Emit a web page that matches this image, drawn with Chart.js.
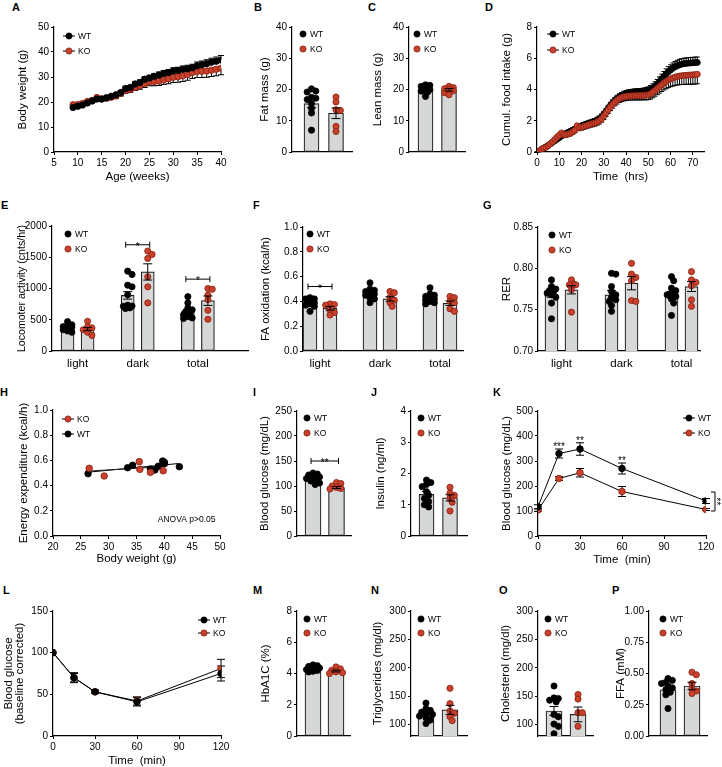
<!DOCTYPE html>
<html>
<head>
<meta charset="utf-8">
<title>Metabolic phenotype WT vs KO</title>
<script src="https://cdn.jsdelivr.net/npm/chart.js@4.4.1/dist/chart.umd.min.js"></script>
<style>
  html, body { margin: 0; padding: 0; background: #fff; }
  body { position: relative; width: 722px; height: 767px; overflow: hidden; }
  canvas { position: absolute; }
  .tag { position: absolute; font: bold 11px "Liberation Sans", Arial, sans-serif; line-height: 11px; color: #000; }
</style>
</head>
<body>
<script>
// ---------------- data ----------------
// A  body weight (g) by age (weeks), mean and SEM
const ageWeeks = [9,10,11,12,13,14,15,16,17,18,19,20,21,22,23,24,25,26,27,28,29,30,31,32,33,34,35,36,37,38,39,40];
const bwWT = [17.8,18.3,18.8,19.6,20.4,21.2,21.2,21.7,22.3,22.9,23.8,25.4,25.8,27.2,27.8,29.1,29.6,30.3,30.8,31.4,31.8,32.4,32.6,33.1,33.3,33.7,34.5,34.9,35.3,35.9,36.3,36.8];
const bwWTsem = [0.5,0.5,0.5,0.5,0.5,0.6,0.6,0.6,0.6,0.7,0.7,0.8,0.8,0.9,1.0,1.0,1.1,1.1,1.2,1.2,1.2,1.3,1.3,1.3,1.4,1.4,1.5,1.5,1.6,1.6,1.7,1.8];
const bwKO = [18.9,19.0,19.4,20.2,20.6,21.8,21.2,21.5,21.9,22.4,23.4,24.6,25.0,25.9,26.5,27.3,28.1,28.2,28.4,28.9,29.3,29.9,30.1,30.5,31.0,31.8,32.2,32.3,32.4,32.7,33.1,33.5];
const bwKOsem = [0.6,0.6,0.6,0.6,0.7,0.7,0.7,0.8,0.8,0.9,1.0,1.1,1.2,1.3,1.4,1.5,1.6,1.7,1.8,1.9,2.0,2.1,2.2,2.3,2.3,2.4,2.4,2.5,2.5,2.5,2.6,2.6];

// B  fat mass (g)
const fatMean = [15.5, 12.4];
const fatSem = [1.3, 1.7];
const fatWT = [20.2, 19.2, 19.5, 17.5, 16.8, 17.2, 15.5, 14.0, 12.5, 7.0];
const fatKO = [17.6, 16.0, 13.3, 13.5, 8.2, 6.6];

// C  lean mass (g)
const leanMean = [20.1, 19.9];
const leanSem = [0.4, 0.4];
const leanWT = [21.5, 21.3, 21.0, 20.5, 20.3, 20.0, 19.8, 19.5, 19.2, 17.8];
const leanKO = [21.0, 20.6, 20.3, 20.0, 19.6, 19.0, 18.3];

// D  cumulative food intake (g) by time (hrs)
const hours = [0,1,2,3,4,5,6,7,8,9,10,11,12,13,14,15,16,17,18,19,20,21,22,23,24,25,26,27,28,29,30,31,32,33,34,35,36,37,38,39,40,41,42,43,44,45,46,47,48,49,50,51,52,53,54,55,56,57,58,59,60,61,62,63,64,65,66,67,68,69,70,71,72];
const foodWT = [0.00,0.05,0.15,0.25,0.33,0.42,0.52,0.62,0.72,0.82,
  0.92,1.02,1.10,1.18,1.26,1.33,1.40,1.47,1.55,1.62,
  1.68,1.73,1.78,1.83,1.88,1.93,1.98,2.05,2.13,2.25,
  2.42,2.60,2.80,2.98,3.15,3.30,3.42,3.52,3.60,3.67,
  3.72,3.76,3.78,3.80,3.81,3.82,3.83,3.84,3.86,3.89,
  3.93,4.00,4.10,4.22,4.36,4.52,4.68,4.84,5.00,5.13,
  5.25,5.36,5.45,5.52,5.58,5.62,5.65,5.67,5.69,5.70,
  5.71,5.72,5.73];
const foodWTsem = [0.02,0.03,0.05,0.06,0.07,0.08,0.08,0.09,0.09,0.10,
  0.10,0.11,0.11,0.12,0.12,0.12,0.13,0.13,0.14,0.14,
  0.14,0.15,0.15,0.15,0.16,0.16,0.16,0.17,0.17,0.18,
  0.18,0.19,0.19,0.20,0.20,0.20,0.21,0.21,0.21,0.22,
  0.22,0.22,0.22,0.22,0.23,0.23,0.23,0.23,0.23,0.24,
  0.24,0.25,0.26,0.27,0.28,0.29,0.30,0.31,0.32,0.33,
  0.33,0.34,0.34,0.35,0.35,0.35,0.35,0.35,0.35,0.35,
  0.35,0.35,0.35];
const foodKO = [0.00,0.05,0.18,0.25,0.30,0.40,0.52,0.65,0.80,0.95,
  1.08,1.22,1.12,1.10,1.15,1.20,1.28,1.40,1.68,1.55,
  1.58,1.63,1.68,1.73,1.78,1.82,1.86,1.92,2.00,2.12,
  2.30,2.50,2.70,2.88,3.05,3.20,3.32,3.42,3.48,3.53,
  3.56,3.58,3.59,3.60,3.60,3.61,3.61,3.62,3.63,3.64,
  3.66,3.72,3.82,3.94,4.06,4.18,4.30,4.42,4.52,4.61,
  4.68,4.74,4.79,4.83,4.86,4.88,4.90,4.91,4.92,4.93,
  4.94,4.95,4.97];
const foodKOsem = [0.02,0.04,0.06,0.07,0.08,0.09,0.10,0.11,0.12,0.13,
  0.14,0.15,0.15,0.15,0.15,0.16,0.16,0.17,0.18,0.18,
  0.18,0.18,0.19,0.19,0.19,0.20,0.20,0.20,0.21,0.21,
  0.22,0.22,0.23,0.23,0.24,0.24,0.25,0.25,0.25,0.26,
  0.26,0.26,0.26,0.27,0.27,0.27,0.28,0.28,0.29,0.30,
  0.31,0.33,0.35,0.37,0.39,0.41,0.43,0.45,0.47,0.49,
  0.50,0.52,0.53,0.54,0.55,0.56,0.57,0.58,0.58,0.59,
  0.60,0.60,0.60];

// E, F, G  light / dark / total phase
const phases = ['light', 'dark', 'total'];
const locoMeanWT = [360, 890, 630];
const locoSemWT = [15, 60, 35];
const locoMeanKO = [350, 1265, 805];
const locoSemKO = [25, 130, 75];
const locoWT = [[470, 420, 400, 390, 375, 365, 355, 340, 320, 300],
                [1278, 1225, 1053, 1027, 900, 720, 733, 716, 690, 679],
                [870, 770, 690, 660, 630, 600, 580, 550, 530, 520]];
const locoKO = [[475, 385, 370, 340, 300, 250],
                [1599, 1545, 1481, 1187, 1027, 770],
                [1000, 989, 893, 823, 652, 508]];
const locoSig = [[1, 1700, '*'], [2, 1150, '*']];   // [phase index, bracket height, label]

const faoMeanWT = [0.39, 0.46, 0.425];
const faoSemWT = [0.010, 0.015, 0.012];
const faoMeanKO = [0.345, 0.42, 0.385];
const faoSemKO = [0.015, 0.018, 0.018];
const faoWT = [[0.43, 0.42, 0.42, 0.41, 0.40, 0.39, 0.38, 0.37, 0.36, 0.32],
               [0.55, 0.50, 0.49, 0.48, 0.47, 0.46, 0.45, 0.43, 0.42, 0.39],
               [0.51, 0.46, 0.45, 0.44, 0.43, 0.42, 0.41, 0.40, 0.39, 0.38]];
const faoKO = [[0.38, 0.375, 0.37, 0.33, 0.31, 0.29],
               [0.48, 0.47, 0.43, 0.41, 0.39, 0.36],
               [0.44, 0.43, 0.40, 0.39, 0.34, 0.32]];
const faoSig = [[0, 0.52, '*']];

const rerMeanWT = [0.769, 0.768, 0.768];
const rerSemWT = [0.004, 0.005, 0.004];
const rerMeanKO = [0.774, 0.782, 0.778];
const rerSemKO = [0.005, 0.008, 0.006];
const rerWT = [[0.786, 0.778, 0.775, 0.773, 0.772, 0.770, 0.768, 0.765, 0.758, 0.739],
               [0.794, 0.793, 0.778, 0.772, 0.768, 0.765, 0.762, 0.760, 0.755, 0.748],
               [0.790, 0.785, 0.776, 0.773, 0.770, 0.768, 0.766, 0.763, 0.758, 0.743]];
const rerKO = [[0.786, 0.781, 0.780, 0.780, 0.774, 0.747],
               [0.806, 0.793, 0.789, 0.785, 0.761, 0.760],
               [0.796, 0.786, 0.783, 0.779, 0.762, 0.754]];

// H  energy expenditure (kcal/h) vs body weight (g)
const eeKOx = [26.5, 29.2, 35.5, 35.6, 37.5, 39.8];
const eeKOy = [0.537, 0.476, 0.590, 0.529, 0.505, 0.518];
const eeWTx = [26.3, 33.4, 34.3, 37.5, 38.3, 38.9, 39.7, 40.0, 40.0, 42.7];
const eeWTy = [0.495, 0.542, 0.561, 0.532, 0.524, 0.553, 0.595, 0.585, 0.574, 0.550];
const eeFitKOx = [26.3, 39.6], eeFitKOy = [0.515, 0.550];
const eeFitWTx = [26.0, 42.5], eeFitWTy = [0.505, 0.575];

// I  blood glucose (mg/dL), J  insulin (ng/ml)
const gluMean = [113, 97];
const gluSem = [2.5, 2.0];
const gluWT = [126, 124, 122, 120, 118, 115, 112, 110, 106, 103];
const gluKO = [107, 105, 100, 97, 95, 94];
const gluSig = [[150, '**']];
const insMean = [1.33, 1.22];
const insSem = [0.09, 0.10];
const insWT = [1.79, 1.71, 1.65, 1.58, 1.42, 1.30, 1.20, 1.10, 1.00, 0.93];
const insKO = [1.56, 1.37, 1.30, 1.21, 1.08, 0.80];

// K  glucose tolerance, L  insulin tolerance
const tolMin = [0, 15, 30, 60, 120];
const gttWT = [117, 330, 348, 270, 140];
const gttWTsem = [8, 18, 25, 22, 10];
const gttKO = [104, 230, 253, 178, 106];
const gttKOsem = [5, 8, 17, 20, 4];
const gttStars = [[15, '***'], [30, '**'], [60, '**']];
const itWT = [100, 70, 53, 41, 75];
const itWTsem = [0, 5, 2, 5, 9];
const itKO = [100, 70, 53, 42, 81];
const itKOsem = [0, 6, 2, 5, 11];

// M - P
const hbaMean = [4.32, 4.16];
const hbaSem = [0.05, 0.06];
const hbaWT = [4.55, 4.50, 4.45, 4.40, 4.35, 4.30, 4.25, 4.20, 4.15, 4.10];
const hbaKO = [4.42, 4.30, 4.20, 4.10, 4.05, 4.00];
const tgMean = [119, 126];
const tgSem = [3.5, 8];
const tgWT = [138, 128, 125, 122, 120, 118, 115, 112, 108, 102];
const tgKO = [164, 137, 124, 120, 114, 107];
const cholMean = [124, 118];
const cholSem = [8, 13];
const cholWT = [168, 147, 146, 143, 140, 118, 114, 101, 97, 84];
const cholKO = [153, 145, 121, 121, 97];
const ffaMean = [0.37, 0.40];
const ffaSem = [0.02, 0.03];
const ffaWT = [0.46, 0.445, 0.43, 0.42, 0.40, 0.385, 0.37, 0.35, 0.33, 0.22];
const ffaKO = [0.51, 0.49, 0.42, 0.38, 0.36, 0.34];

// ---------------- style ----------------
const FONT = '"Liberation Sans", Arial, sans-serif';
const WT = { fill: '#000000', edge: '#000000' };
const KO = { fill: '#c8412d', edge: '#86200f' };
const BAR_FILL = '#d6d8d8';
const DOT_R = 3.1;

function drawErrs(chart, list) {
  if (!list) return;
  const { ctx, scales: { x, y } } = chart;
  ctx.save();
  ctx.strokeStyle = '#000';
  ctx.lineWidth = 1;
  list.forEach(e => {
    const px = x.getPixelForValue(e.x);
    const y0 = y.getPixelForValue(e.y - e.down), y1 = y.getPixelForValue(e.y + e.up);
    ctx.beginPath();
    ctx.moveTo(px, y0); ctx.lineTo(px, y1);
    if (e.up) { ctx.moveTo(px - e.cap, y1); ctx.lineTo(px + e.cap, y1); }
    if (e.down) { ctx.moveTo(px - e.cap, y0); ctx.lineTo(px + e.cap, y0); }
    ctx.stroke();
  });
  ctx.restore();
}

// error bars, brackets, inset legends, notes
Chart.register({
  id: 'extras',
  beforeDatasetsDraw(chart) {
    const e = chart.canvas._extras;
    if (e) drawErrs(chart, e.errsBelow);
  },
  afterDatasetsDraw(chart) {
    const e = chart.canvas._extras;
    if (!e) return;
    drawErrs(chart, e.errs);
    const { ctx, chartArea: a, scales: { x, y } } = chart;
    ctx.save();
    ctx.strokeStyle = '#000';
    ctx.fillStyle = '#000';
    ctx.lineWidth = 1;
    (e.brackets || []).forEach(b => {
      const x1 = x.getPixelForValue(b.x1) - 2, x2 = x.getPixelForValue(b.x2) + 2, py = y.getPixelForValue(b.y);
      ctx.beginPath();
      ctx.moveTo(x1, py - 3); ctx.lineTo(x1, py + 3);
      ctx.moveTo(x2, py - 3); ctx.lineTo(x2, py + 3);
      ctx.moveTo(x1, py); ctx.lineTo(x2, py);
      ctx.stroke();
      ctx.font = `10px ${FONT}`;
      ctx.textAlign = 'center';
      ctx.textBaseline = 'alphabetic';
      ctx.fillText(b.text, (x1 + x2) / 2, py + 5);
    });
    (e.texts || []).forEach(t => {
      ctx.font = `${t.size || 10}px ${FONT}`;
      ctx.textAlign = 'center';
      ctx.textBaseline = 'middle';
      ctx.fillText(t.text, x.getPixelForValue(t.x), y.getPixelForValue(t.y));
    });
    if (e.vb) {
      const v = e.vb;
      const px = x.getPixelForValue(v.x) + v.dx;
      const y1 = y.getPixelForValue(v.y1), y2 = y.getPixelForValue(v.y2);
      ctx.beginPath();
      ctx.moveTo(px - 4, y1); ctx.lineTo(px, y1); ctx.lineTo(px, y2); ctx.lineTo(px - 4, y2);
      ctx.stroke();
      ctx.save();
      ctx.translate(px - 2, (y1 + y2) / 2);
      ctx.rotate(Math.PI / 2);
      ctx.font = `10px ${FONT}`;
      ctx.textAlign = 'center';
      ctx.textBaseline = 'alphabetic';
      ctx.fillText(v.text, 0, 0);
      ctx.restore();
    }
    if (e.legend) {
      const L = e.legend;
      L.items.forEach((it, i) => {
        const cx = a.left + L.dx, cy = a.top + L.dy + i * L.gap;
        if (L.line) {
          ctx.beginPath();
          ctx.moveTo(cx - 6, cy); ctx.lineTo(cx + 6, cy);
          ctx.strokeStyle = '#000'; ctx.lineWidth = 1;
          ctx.stroke();
        }
        ctx.beginPath();
        ctx.arc(cx, cy, DOT_R, 0, Math.PI * 2);
        ctx.fillStyle = it.who.fill; ctx.fill();
        ctx.lineWidth = 0.8; ctx.strokeStyle = it.who.edge; ctx.stroke();
        ctx.fillStyle = '#000';
        ctx.font = `8.5px ${FONT}`;
        ctx.textAlign = 'left';
        ctx.textBaseline = 'middle';
        ctx.fillText(it.label, cx + (L.line ? 9 : 7), cy + 0.5);
      });
    }
    ctx.restore();
  }
});

function tag(letter, left, top) {
  const d = document.createElement('div');
  d.className = 'tag';
  d.textContent = letter;
  d.style.left = left + 'px';
  d.style.top = top + 'px';
  document.body.appendChild(d);
}

function axisY(p) {
  return {
    type: 'linear', position: 'left', min: p.y[0], max: p.y[1],
    afterBuildTicks: s => { s.ticks = p.yTicks.map(v => ({ value: v })); },
    afterFit: s => { s.width = p.yW; },
    ticks: { color: '#000', font: { family: FONT, size: 10 }, padding: 2, autoSkip: false,
             callback: v => Number(v).toFixed(p.yDec || 0) },
    grid: { drawOnChartArea: false, drawTicks: true, tickLength: 3, color: '#000', lineWidth: 1 },
    border: { display: true, color: '#000', width: 1.2 },
    title: { display: true, text: p.yTitle, color: '#000', padding: 0,
             font: { family: FONT, size: p.yTitleSize || 11.5, lineHeight: p.yTitleLH || 1.2 } }
  };
}

function axisX(p) {
  const cats = p.xCats;
  const tickVals = cats ? cats.at : (p.xTicks || [p.x[0]]);
  return {
    type: 'linear', position: 'bottom', min: p.x[0], max: p.x[1], offset: false,
    afterBuildTicks: s => { s.ticks = tickVals.map(v => ({ value: v })); },
    afterFit: s => { s.height = p.xH; },
    ticks: { display: !!(cats || p.xTicks), color: '#000', autoSkip: false, maxRotation: 0,
             font: { family: FONT, size: cats ? 11.5 : 10 }, padding: cats ? 3 : 2,
             callback: (v, i) => cats ? cats.labels[i] : v },
    grid: { display: !!p.xTicks, offset: false, drawOnChartArea: false, drawTicks: true, tickLength: 3, color: '#000', lineWidth: 1 },
    border: { display: true, color: '#000', width: 1.2 },
    title: { display: !!p.xTitle, text: p.xTitle || '', color: '#000', padding: 0,
             font: { family: FONT, size: 11.5 } }
  };
}

function draw(p, datasets, type) {
  const [l, r, t, b] = p.area;
  p.padT = p.padT || 9;
  p.padR = p.padR || 12;
  p.xH = p.xH || 10;
  const c = document.createElement('canvas');
  const w = p.yW + (r - l) + p.padR, h = p.padT + (b - t) + p.xH;
  c.width = w; c.height = h;
  c.style.left = (l - p.yW) + 'px';
  c.style.top = (t - p.padT) + 'px';
  c.style.width = w + 'px';
  c.style.height = h + 'px';
  document.body.appendChild(c);
  c._extras = p.extras || {};
  return new Chart(c, {
    type,
    data: { datasets },
    options: {
      responsive: false, animation: false, devicePixelRatio: 1, events: [],
      layout: { padding: { top: p.padT, right: p.padR, left: 0, bottom: 0 } },
      plugins: { legend: { display: false }, tooltip: { enabled: false } },
      scales: { x: axisX(p), y: axisY(p) }
    }
  });
}

// spread dots sideways within the bar so they overlap less (layout only)
function swarm(vals, cx, pxX, pxY, maxOff) {
  const placed = [];
  const out = new Array(vals.length);
  const order = vals.map((v, i) => i).sort((a, b) => vals[b] - vals[a]);
  order.forEach(i => {
    const py = vals[i] * pxY;
    let best = 0, bestD = -1;
    for (let k = 0; k < 40; k++) {
      const off = (k % 2 ? 1 : -1) * Math.ceil(k / 2) * DOT_R * 0.7;
      if (Math.abs(off) > maxOff) break;
      const d = placed.length ? Math.min(...placed.map(q => Math.hypot(q.x - off, q.y - py))) : Infinity;
      if (d >= DOT_R * 1.35) { best = off; break; }
      if (d > bestD) { bestD = d; best = off; }
    }
    placed.push({ x: best, y: py });
    out[i] = { x: cx + best / pxX, y: vals[i] };
  });
  return out;
}

const legendDots = (dx, dy, gap) => ({ dx, dy, gap: gap || 15, line: false,
  items: [{ label: 'WT', who: WT }, { label: 'KO', who: KO }] });
const legendLines = (dx, dy, gap, items) => ({ dx, dy, gap: gap || 15, line: true,
  items: items || [{ label: 'WT', who: WT }, { label: 'KO', who: KO }] });

function barPanel(p) {
  const pxY = (p.area[3] - p.area[2]) / (p.y[1] - p.y[0]);
  const pxX = (p.area[1] - p.area[0]) / (p.x[1] - p.x[0]);
  const ds = [];
  [WT, KO].forEach(who => {
    const gs = p.groups.filter(g => g.who === who);
    ds.push({ type: 'bar', data: gs.map(g => ({ x: g.x, y: g.mean })), backgroundColor: BAR_FILL,
              borderColor: '#222', borderWidth: 1.2, borderSkipped: false, barThickness: p.barW,
              grouped: false, order: 3 });
    ds.push({ type: 'scatter', data: gs.flatMap(g => swarm(g.dots, g.x, pxX, pxY, p.barW * 0.42)),
              pointRadius: DOT_R, pointBackgroundColor: who.fill, pointBorderColor: who.edge,
              pointBorderWidth: 0.8, order: 1 });
  });
  p.extras = Object.assign({
    errs: p.groups.map(g => ({ x: g.x, y: g.mean, up: g.sem, down: g.sem, cap: 4.5 }))
  }, p.extras || {});
  return draw(p, ds, 'bar');
}

function pairGroups(mean, sem, wt, ko) {
  return [{ x: 1, mean: mean[0], sem: sem[0], dots: wt, who: WT },
          { x: 2, mean: mean[1], sem: sem[1], dots: ko, who: KO }];
}
function tripleGroups(mWT, sWT, dWT, mKO, sKO, dKO) {
  const g = [];
  phases.forEach((ph, i) => {
    g.push({ x: 1 + 3 * i, mean: mWT[i], sem: sWT[i], dots: dWT[i], who: WT });
    g.push({ x: 2 + 3 * i, mean: mKO[i], sem: sKO[i], dots: dKO[i], who: KO });
  });
  return g;
}
const phaseCats = { at: [1.5, 4.5, 7.5], labels: phases };
const sigBrackets = sig => sig.map(s => ({ x1: 1 + 3 * s[0], x2: 2 + 3 * s[0], y: s[1], text: s[2] }));

function series(xs, ys, who, r, order) {
  return { type: 'scatter', showLine: true, data: xs.map((x, i) => ({ x, y: ys[i] })),
           borderColor: '#000', borderWidth: 1, pointRadius: r,
           pointBackgroundColor: who.fill, pointBorderColor: who.edge, pointBorderWidth: 0.8, order };
}
function errList(xs, ys, up, down, cap) {
  return xs.map((x, i) => ({ x, y: ys[i], up: up ? up[i] : 0, down: down ? down[i] : 0, cap }));
}

// ---------------- panels ----------------
// A
draw({ area: [54, 221, 27, 152], yW: 38, xH: 32, y: [0, 50], yTicks: [0, 10, 20, 30, 40, 50],
       yTitle: 'Body weight (g)', x: [5, 40], xTicks: [5, 10, 15, 20, 25, 30, 35, 40], xTitle: 'Age (weeks)',
       extras: { errsBelow: errList(ageWeeks, bwWT, bwWTsem, null, 3).concat(errList(ageWeeks, bwKO, null, bwKOsem, 3)),
                 legend: legendLines(15, 9, 15) } },
     [series(ageWeeks, bwWT, WT, 3.2, 1), series(ageWeeks, bwKO, KO, 3.2, 2)], 'scatter');

// B
barPanel({ area: [292, 352, 27, 152], yW: 34, y: [0, 40], yTicks: [0, 10, 20, 30, 40], yTitle: 'Fat mass (g)',
           x: [0.204, 2.653], barW: 15, groups: pairGroups(fatMean, fatSem, fatWT, fatKO),
           extras: { legend: legendDots(11, 7) } });
// C
barPanel({ area: [409, 465, 27, 152], yW: 38, y: [0, 40], yTicks: [0, 10, 20, 30, 40], yTitle: 'Lean mass (g)',
           x: [0.298, 2.681], barW: 15, groups: pairGroups(leanMean, leanSem, leanWT, leanKO),
           extras: { legend: legendDots(8, 7) } });
// D
draw({ area: [537, 704, 27, 152], yW: 37, xH: 32, y: [0, 8], yTicks: [0, 2, 4, 6, 8],
       yTitle: 'Cumul. food intake (g)', x: [0, 75], xTicks: [0, 10, 20, 30, 40, 50, 60, 70], xTitle: 'Time  (hrs)',
       padR: 14,
       extras: { errsBelow: errList(hours, foodWT, foodWTsem, null, 2.5).concat(errList(hours, foodKO, null, foodKOsem, 2.5)),
                 legend: legendLines(16, 7, 16) } },
     [series(hours, foodWT, WT, 3, 2), series(hours, foodKO, KO, 3, 1)], 'scatter');

// E
barPanel({ area: [52, 248, 226, 351], yW: 36, xH: 22, y: [0, 2000], yTicks: [0, 500, 1000, 1500, 2000],
           yTitle: 'Locomoter activity (cnts/hr)', yTitleSize: 10.6, x: [0.225, 10], xCats: phaseCats, barW: 13,
           groups: tripleGroups(locoMeanWT, locoSemWT, locoWT, locoMeanKO, locoSemKO, locoKO),
           extras: { legend: legendDots(16, 8), brackets: sigBrackets(locoSig) } });
// F
barPanel({ area: [303, 463, 227, 351], yW: 44, xH: 22, y: [0, 1], yTicks: [0, 0.2, 0.4, 0.6, 0.8, 1.0], yDec: 1,
           yTitle: 'FA oxidation (kcal/h)', x: [0.65, 8.65], xCats: phaseCats, barW: 14,
           groups: tripleGroups(faoMeanWT, faoSemWT, faoWT, faoMeanKO, faoSemKO, faoKO),
           extras: { legend: legendDots(7, 7), brackets: sigBrackets(faoSig) } });
// G
barPanel({ area: [538, 700, 227, 351], yW: 38, xH: 22, y: [0.70, 0.85], yTicks: [0.70, 0.75, 0.80, 0.85], yDec: 2,
           yTitle: 'RER', x: [0.325, 8.425], xCats: phaseCats, barW: 13,
           groups: tripleGroups(rerMeanWT, rerSemWT, rerWT, rerMeanKO, rerSemKO, rerKO),
           extras: { legend: legendDots(14, 8) } });

// H
draw({ area: [53, 220, 410, 536], yW: 36, xH: 30, y: [0, 1], yTicks: [0, 0.2, 0.4, 0.6, 0.8, 1.0], yDec: 1,
       yTitle: 'Energy expenditure (kcal/h)', x: [20, 50], xTicks: [20, 25, 30, 35, 40, 45, 50], xTitle: 'Body weight (g)',
       extras: { legend: legendLines(15, 9, 15, [{ label: 'KO', who: KO }, { label: 'WT', who: WT }]),
                 texts: [{ x: 44, y: 0.13, text: 'ANOVA p>0.05', size: 8.5 }] } },
     [{ type: 'scatter', data: eeKOx.map((x, i) => ({ x, y: eeKOy[i] })), pointRadius: 3.3,
        pointBackgroundColor: KO.fill, pointBorderColor: KO.edge, pointBorderWidth: 0.8, order: 1 },
      { type: 'scatter', data: eeWTx.map((x, i) => ({ x, y: eeWTy[i] })), pointRadius: 3.3,
        pointBackgroundColor: WT.fill, pointBorderColor: WT.edge, pointBorderWidth: 0.8, order: 1 },
      { type: 'scatter', showLine: true, data: eeFitKOx.map((x, i) => ({ x, y: eeFitKOy[i] })), pointRadius: 0,
        borderColor: '#222', borderWidth: 1, order: 3 },
      { type: 'scatter', showLine: true, data: eeFitWTx.map((x, i) => ({ x, y: eeFitWTy[i] })), pointRadius: 0,
        borderColor: '#000', borderWidth: 1, order: 3 }], 'scatter');

// I
barPanel({ area: [297, 351, 411, 536], yW: 39, y: [0, 250], yTicks: [0, 50, 100, 150, 200, 250],
           yTitle: 'Blood glucose (mg/dL)', x: [0.319, 2.617], barW: 16, groups: pairGroups(gluMean, gluSem, gluWT, gluKO),
           extras: { legend: legendDots(10, 7),
                     brackets: gluSig.map(s => ({ x1: 1, x2: 2, y: s[0], text: s[1] })) } });
// J
barPanel({ area: [411, 467, 411, 536], yW: 37, y: [0, 4], yTicks: [0, 1, 2, 3, 4],
           yTitle: 'Insulin (ng/ml)', x: [0.340, 2.723], barW: 15, groups: pairGroups(insMean, insSem, insWT, insKO),
           extras: { legend: legendDots(10, 7) } });

// K
draw({ area: [538, 706, 411, 536], yW: 38, xH: 31, y: [0, 500], yTicks: [0, 100, 200, 300, 400, 500],
       yTitle: 'Blood glucose (mg/dL)', x: [0, 120], xTicks: [0, 30, 60, 90, 120], xTitle: 'Time  (min)', padR: 16,
       extras: { errsBelow: errList(tolMin, gttWT, gttWTsem, gttWTsem, 4).concat(errList(tolMin, gttKO, gttKOsem, gttKOsem, 4)),
                 texts: gttStars.map(s => ({ x: s[0], y: gttWT[tolMin.indexOf(s[0])] + gttWTsem[tolMin.indexOf(s[0])] + 6, text: s[1] })),
                 vb: { x: 120, dx: 9, y1: 176, y2: 100, text: '**' },
                 legend: legendLines(151, 7, 15) } },
     [series(tolMin, gttWT, WT, 3.3, 1), series(tolMin, gttKO, KO, 3.3, 2)], 'scatter');

// L
draw({ area: [53, 221, 611, 736], yW: 50, xH: 32, y: [0, 150], yTicks: [0, 50, 100, 150],
       yTitle: ['Blood glucose', '(baseline corrected)'], yTitleLH: 1.0,
       x: [0, 120], xTicks: [0, 30, 60, 90, 120], xTitle: 'Time  (min)',
       extras: { errsBelow: errList(tolMin, itWT, itWTsem, itWTsem, 4).concat(errList(tolMin, itKO, itKOsem, itKOsem, 4)),
                 legend: legendLines(151, 9, 13) } },
     [series(tolMin, itWT, WT, 3.3, 1), series(tolMin, itKO, KO, 3.3, 2)], 'scatter');

// M
barPanel({ area: [297, 350, 611, 736], yW: 38, y: [0, 8], yTicks: [0, 2, 4, 6, 8], yTitle: 'HbA1C (%)',
           x: [0.304, 2.609], barW: 16, groups: pairGroups(hbaMean, hbaSem, hbaWT, hbaKO),
           extras: { legend: legendDots(10, 8, 14) } });
// N
barPanel({ area: [411, 467, 611, 736], yW: 40, y: [80, 300], yTicks: [100, 150, 200, 250, 300],
           yTitle: 'Triglycerides (mg/dl)', x: [0.375, 2.708], barW: 16, groups: pairGroups(tgMean, tgSem, tgWT, tgKO),
           extras: { legend: legendDots(10, 8, 14) } });
// O
barPanel({ area: [538, 593, 611, 736], yW: 39, y: [80, 300], yTicks: [100, 150, 200, 250, 300],
           yTitle: 'Cholesterol (mg/dl)', x: [0.333, 2.625], barW: 16, groups: pairGroups(cholMean, cholSem, cholWT, cholKO),
           extras: { legend: legendDots(10, 8, 14) } });
// P
barPanel({ area: [649, 707, 611, 736], yW: 35, y: [0, 1], yTicks: [0, 0.25, 0.5, 0.75, 1.0], yDec: 2,
           yTitle: 'FFA (mM)', x: [0.208, 2.625], barW: 16, groups: pairGroups(ffaMean, ffaSem, ffaWT, ffaKO),
           extras: { legend: legendDots(14, 8, 14) } });

// panel letters
[['A', 12, 2], ['B', 254, 2], ['C', 368, 2], ['D', 485, 2],
 ['E', 1, 200], ['F', 253, 200], ['G', 483, 200],
 ['H', 0, 387], ['I', 253, 387], ['J', 371, 387], ['K', 493, 387],
 ['L', 3, 585], ['M', 253, 585], ['N', 371, 585], ['O', 499, 585], ['P', 612, 585]]
  .forEach(t => tag(t[0], t[1], t[2]));
</script>
</body>
</html>
